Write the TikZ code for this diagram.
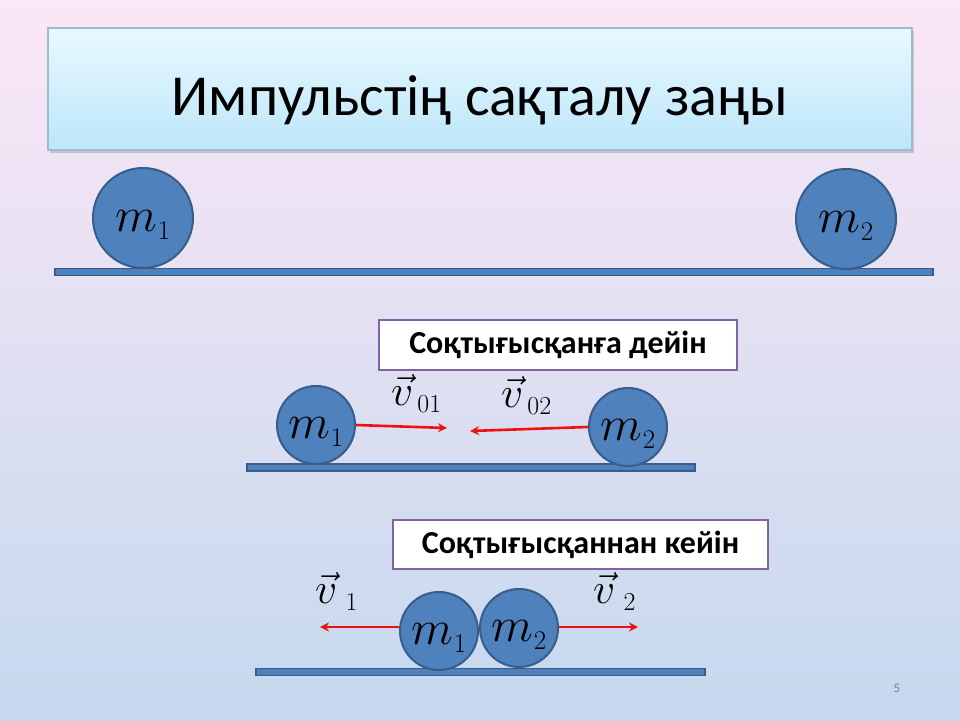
\documentclass[tikz,border=0pt]{standalone}
\usepackage{graphicx}
\usepackage{fontspec}
\setmainfont{Carlito}
\usetikzlibrary{arrows.meta,shadows}
\definecolor{ballfill}{HTML}{4F81BD}
\definecolor{balldraw}{HTML}{385D8A}
\definecolor{bgtop}{HTML}{FBE7F6}
\definecolor{bgbot}{HTML}{C5D8EE}
\definecolor{titletop}{HTML}{E9F9FE}
\definecolor{titlebot}{HTML}{BCE6FA}
\definecolor{titleborder}{HTML}{9DBCD2}
\definecolor{boxborder}{HTML}{8064A2}
\definecolor{velred}{HTML}{F01010}
\newcommand\masslab[1]{\scalebox{2.35}{$m$}\kern0.5pt\raisebox{-8pt}{\scalebox{1.3}{$#1$}}}
\newcommand\vellab[1]{\scalebox{2.1}{$\vec{v}$}\kern4pt\raisebox{-7pt}{\scalebox{1.25}{$#1$}}}
\begin{document}
\begin{tikzpicture}[x=1pt,y=-1pt,
  ball/.style={circle, fill=ballfill, draw=balldraw, line width=2pt, inner sep=0pt, text height=32pt, text depth=5pt, font=\fontsize{20}{20}\selectfont},
  bar/.style={rectangle, fill=ballfill, draw=balldraw, line width=1.5pt, inner sep=0pt, minimum height=7pt},
  phasebox/.style={rectangle, fill=white, draw=boxborder, line width=2.5pt, inner sep=0pt, font=\fontsize{32}{32}\selectfont\bfseries},
  vel/.style={draw=velred, line width=2.6pt, -{Stealth[length=9pt,width=9pt]}},
  vlabel/.style={inner sep=0pt, anchor=base west, font=\fontsize{20}{20}\selectfont}]
\shade[top color=bgtop, bottom color=bgbot] (0,0) rectangle (960,720);
\useasboundingbox (0,0) rectangle (960,720);
% title
\node[rectangle, top color=titletop, bottom color=titlebot, draw=titleborder, line width=1.5pt,
  minimum width=864pt, minimum height=122pt, inner sep=0pt,
  drop shadow={shadow xshift=2pt, shadow yshift=-3pt, opacity=.35}] (title) at (480,89) {};
\node[anchor=base, inner sep=0pt, font=\fontsize{58}{58}\selectfont] (titletext) at (480,115) {Импульстің сақталу заңы};
% top row
\node[bar, minimum width=878pt] (g1) at (494,272) {};
\node[ball, minimum size=100pt] (m1a) at (143,218) {\masslab{1}};
\node[ball, minimum size=100pt] (m2a) at (846,219) {\masslab{2}};
% before collision
\node[phasebox, minimum width=358pt, minimum height=50pt] (before) at (558,345) {Соқтығысқанға дейін};
\node[bar, minimum width=448pt] (g2) at (471,467.5) {};
\node[ball, minimum size=78pt] (m1b) at (316,425) {\masslab{1}};
\node[ball, minimum size=78pt] (m2b) at (628,427) {\masslab{2}};
\coordinate (t1) at (447,428);
\coordinate (t2) at (470,431);
\draw[vel] (m1b.east) -- (t1);
\draw[vel] (m2b.west) -- (t2);
\node[vlabel] (v01) at (391,405) {\vellab{01}};
\node[vlabel] (v02) at (501,407) {\vellab{02}};
% after collision
\node[phasebox, minimum width=375pt, minimum height=49pt] (after) at (580.5,544.5) {Соқтығысқаннан кейін};
\node[bar, minimum width=449pt] (g3) at (480.5,672) {};
\node[ball, minimum size=78pt] (m1c) at (439,631) {\masslab{1}};
\node[ball, minimum size=78pt] (m2c) at (519,628) {\masslab{2}};
\coordinate (t3) at (320,627);
\coordinate (t4) at (638,627);
\draw[vel] (m1c.west |- t3) -- (t3);
\draw[vel] (m2c.east |- t4) -- (t4);
\node[vlabel] (v1) at (315,603) {\vellab{\,1}};
\node[vlabel] (v2) at (593,603) {\vellab{\,2}};
% page number
\node[text=gray, font=\fontsize{13}{13}\selectfont] (pg) at (897,688) {5};
\end{tikzpicture}
\end{document}
